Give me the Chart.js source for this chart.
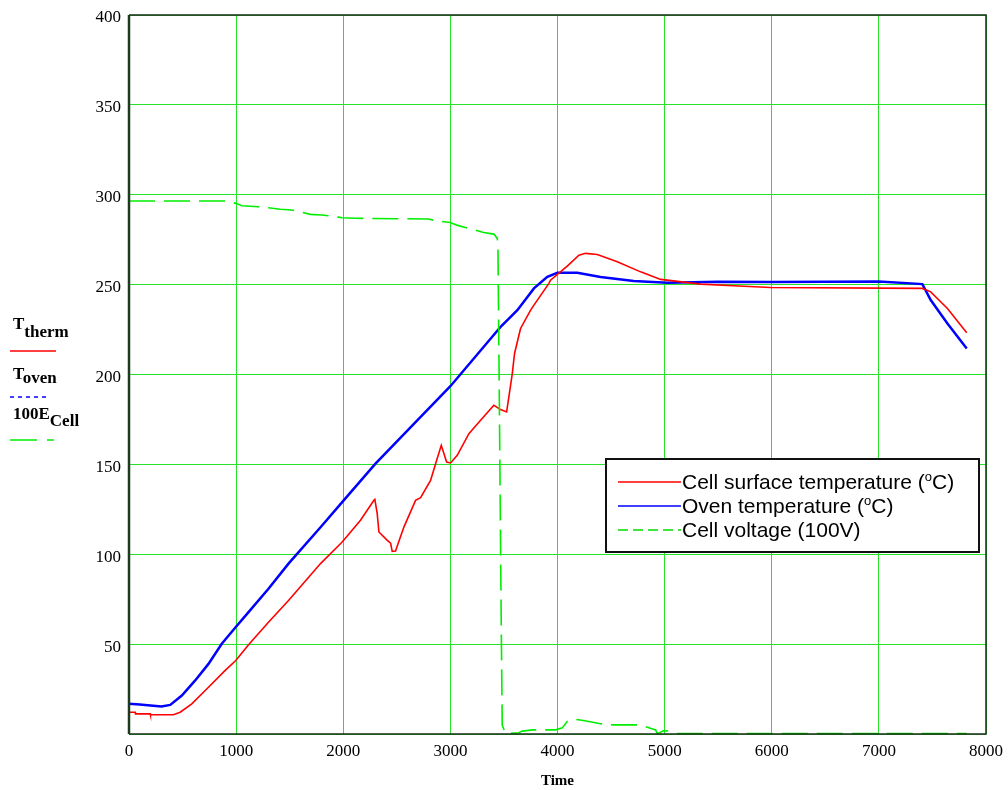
<!DOCTYPE html>
<html lang="en">
  <head>
    <meta charset="UTF-8" />
    <title>Cell / oven temperature</title>
    <script src="https://cdn.jsdelivr.net/npm/chart.js"></script>
    <style>
      body { margin: 0; background: #fff; }
      #wrap { position: relative; width: 1008px; height: 790px; }
      #overlay { position: absolute; left: 0; top: 0; pointer-events: none; }
    </style>
  </head>
  <body>
    <div id="wrap">
      <canvas id="tempChart" width="1008" height="790"></canvas>
      <svg id="overlay" width="1008" height="790">
        <!-- left side labels, mathcad style -->
        <g font-family="'Liberation Serif', 'Times New Roman', serif" font-weight="bold" font-size="17" fill="#000">
          <text x="13" y="329">T<tspan font-size="17" dy="8">therm</tspan></text>
          <text x="13" y="379">T<tspan font-size="17" dy="4">oven</tspan></text>
          <text x="13" y="419">100E<tspan font-size="17" dy="7">Cell</tspan></text>
        </g>
        <line x1="10" y1="351" x2="56" y2="351" stroke="#ff0000" stroke-width="1.5" />
        <line x1="10" y1="397" x2="50" y2="397" stroke="#0000ff" stroke-width="1.5" stroke-dasharray="4,4" />
        <line x1="10" y1="440" x2="54" y2="440" stroke="#00ee00" stroke-width="1.5" stroke-dasharray="27,10" />
        <!-- legend box -->
        <rect x="606" y="459" width="373" height="93" fill="#fff" stroke="#111" stroke-width="2" />
        <line x1="618" y1="482" x2="681" y2="482" stroke="#ff0000" stroke-width="1.5" />
        <line x1="618" y1="506" x2="681" y2="506" stroke="#0000ff" stroke-width="1.5" />
        <line x1="618" y1="530" x2="681" y2="530" stroke="#00dd00" stroke-width="1.5" stroke-dasharray="10,5" />
        <g font-family="'Liberation Sans', Arial, sans-serif" font-size="21" fill="#000">
          <text x="682" y="489">Cell surface temperature (<tspan font-size="13" dy="-8">o</tspan><tspan dy="8">C)</tspan></text>
          <text x="682" y="513">Oven temperature (<tspan font-size="13" dy="-8">o</tspan><tspan dy="8">C)</tspan></text>
          <text x="682" y="537">Cell voltage (100V)</text>
        </g>
      </svg>
    </div>
    <script>
      // cell surface temperature (red)
      const cellTime = [0, 58, 60, 198, 200, 415, 478, 586, 742, 898, 997, 1116, 1302, 1489, 1788, 1990, 2161, 2286, 2295, 2317, 2333, 2411, 2442, 2457, 2488, 2566, 2675, 2722, 2815, 2862, 2915, 2965, 3002, 3064, 3173, 3282, 3406, 3469, 3525, 3546, 3578, 3599, 3655, 3749, 3780, 3920, 3935, 4091, 4200, 4262, 4371, 4558, 4776, 4963, 5336, 5694, 5990, 7406, 7484, 7640, 7820];
      const cellTemp = [12.1, 12.1, 11.2, 11.2, 10.7, 10.7, 12.1, 16.8, 26, 35.4, 40.9, 49.7, 62.2, 74.3, 94.8, 106.8, 118.9, 130, 130.5, 122.6, 112.4, 107.7, 106.2, 101.6, 101.8, 115.1, 130, 131.5, 141.1, 150.4, 160.6, 151.3, 150.8, 155, 167.1, 174.5, 182.9, 180.5, 179.2, 187.5, 200.5, 211.7, 225.6, 235.8, 238.6, 250.7, 252.5, 260.3, 266.4, 267.4, 266.8, 262.7, 257.1, 252.9, 250.3, 249.2, 248.4, 247.9, 246, 236.7, 223.2];

      // oven temperature (blue)
      const ovenTime = [0, 100, 200, 303, 385, 493, 618, 742, 866, 997, 1116, 1302, 1489, 1788, 1990, 2301, 2691, 3000, 3440, 3469, 3625, 3780, 3905, 3999, 4185, 4402, 4711, 5025, 5500, 6000, 6500, 7000, 7406, 7484, 7640, 7820];
      const ovenTemp = [16.8, 16.4, 15.9, 15.3, 16.2, 21.4, 29.8, 39, 50.2, 59.5, 67.8, 80.8, 94.8, 115, 129, 150.4, 174.5, 193.5, 224.5, 226.5, 235.8, 247.9, 254.3, 256.6, 256.6, 254.3, 252, 251, 251.6, 251.5, 251.6, 251.7, 250.3, 241.4, 228.4, 214.5];

      // cell voltage x100 (green dashed)
      const voltTime = [0, 898, 1000, 1053, 1209, 1302, 1411, 1520, 1598, 1692, 1800, 1910, 1987, 2112, 2796, 2874, 2999, 3061, 3139, 3232, 3310, 3406, 3438, 3444, 3455, 3465, 3475, 3484, 3515, 3638, 3671, 3765, 3983, 4045, 4092, 4185, 4279, 4402, 4512, 4760, 4838, 4916, 4932, 4990, 5056, 5118, 7820];
      const voltVal = [296.5, 296.5, 295.2, 293.9, 293.3, 292.8, 291.9, 291.5, 290.5, 289.1, 288.7, 288.1, 287.2, 286.9, 286.5, 285.4, 284.6, 283.1, 281.8, 280.3, 279, 278.1, 275.7, 272, 200, 130, 60, 5, 0.2, 0.7, 1.6, 2.3, 2.3, 3.4, 7.1, 8.1, 7.1, 5.7, 5.1, 5.1, 3.8, 2.3, 0.2, 1.8, 1.6, 0.2, 0.2];

      const xTicks = [0, 1000, 2000, 3000, 4000, 5000, 6000, 7000, 8000];
      const yTicks = [50, 100, 150, 200, 250, 300, 350, 400];

      function pts(xs, ys) {
        return xs.map((x, i) => ({ x: x, y: ys[i] }));
      }

      // frame around the plot area
      const framePlugin = {
        id: "frame",
        afterDraw(chart) {
          const a = chart.chartArea;
          const ctx = chart.ctx;
          ctx.save();
          ctx.strokeStyle = "#1a2a1a";
          ctx.lineWidth = 1.5;
          ctx.beginPath();
          ctx.moveTo(a.left, a.top);
          ctx.lineTo(a.right, a.top);
          ctx.lineTo(a.right, a.bottom);
          ctx.lineTo(a.left, a.bottom);
          ctx.stroke();
          ctx.lineWidth = 2.5;
          ctx.strokeStyle = "#1c3a1c";
          ctx.beginPath();
          ctx.moveTo(a.left, a.top);
          ctx.lineTo(a.left, a.bottom);
          ctx.stroke();
          ctx.restore();
        },
      };

      const serif = "'Liberation Serif', 'Times New Roman', serif";
      const gridGreen = "rgb(40, 225, 40)";

      new Chart(document.getElementById("tempChart"), {
        type: "line",
        data: {
          datasets: [
            {
              label: "Cell voltage (100V)",
              data: pts(voltTime, voltVal),
              borderColor: "#00ee00",
              borderWidth: 1.6,
              borderDash: [26, 9],
              fill: false,
            },
            {
              label: "Cell surface temperature (oC)",
              data: pts(cellTime, cellTemp),
              borderColor: "#ff0000",
              borderWidth: 1.6,
              fill: false,
            },
            {
              label: "Oven temperature (oC)",
              data: pts(ovenTime, ovenTemp),
              borderColor: "#0000ff",
              borderWidth: 2.5,
              fill: false,
            },
          ],
        },
        options: {
          responsive: false,
          animation: false,
          layout: { padding: { top: 15, right: 22, left: 0, bottom: 0 } },
          elements: { point: { radius: 0 }, line: { tension: 0 } },
          plugins: { legend: { display: false }, tooltip: { enabled: false } },
          scales: {
            x: {
              type: "linear",
              min: 0,
              max: 8000,
              afterBuildTicks: (s) => { s.ticks = xTicks.map((v) => ({ value: v })); },
              afterFit: (s) => { s.height = 56; s.paddingLeft = 0; s.paddingRight = 0; },
              grid: { color: gridGreen, lineWidth: 1, drawTicks: false },
              border: { display: false },
              ticks: {
                padding: 7,
                color: "#000",
                font: { family: serif, size: 17 },
                maxRotation: 0,
                callback: (v) => String(v),
              },
              title: {
                display: true,
                text: "Time",
                color: "#000",
                font: { family: serif, size: 15, weight: "bold" },
                padding: { top: 0, bottom: 0 },
              },
            },
            y: {
              min: 0,
              max: 400,
              afterBuildTicks: (s) => { s.ticks = [0].concat(yTicks).map((v) => ({ value: v })); },
              afterFit: (s) => { s.width = 129; s.paddingTop = 0; s.paddingBottom = 0; },
              grid: { color: gridGreen, lineWidth: 1, drawTicks: false },
              border: { display: false },
              ticks: {
                padding: 8,
                labelOffset: 3,
                color: "#000",
                font: { family: serif, size: 17 },
                callback: (v) => (v === 0 ? "" : String(v)),
              },
            },
          },
        },
        plugins: [framePlugin],
      });
    </script>
  </body>
</html>
